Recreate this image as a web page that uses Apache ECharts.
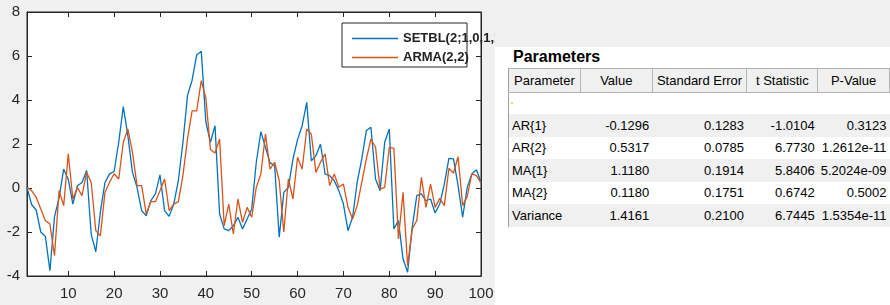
<!DOCTYPE html>
<html>
<head>
<meta charset="utf-8">
<script src="https://cdn.jsdelivr.net/npm/echarts@6/dist/echarts.min.js"></script>
<style>
  html, body { margin: 0; padding: 0; background: #fff; }
  #wrap { position: relative; width: 890px; height: 305px; overflow: hidden; }
  #chart { position: absolute; left: 0; top: 0; width: 890px; height: 305px; }
  /* panel on the right */
  #panel { position: absolute; left: 495px; top: 0; width: 395px; height: 305px; background: #fff;
           font-family: "Liberation Sans", Arial, sans-serif; color: #000; }
  #band { position: absolute; left: 0; top: 0; width: 395px; height: 47px; background: #f0f0f0; }
  #title { position: absolute; left: 18px; top: 48px; font-size: 16px; font-weight: bold; }
  table { position: absolute; left: 13px; top: 68px; border-collapse: collapse; font-size: 13px;
          table-layout: fixed; border-left: 1px solid #a0a0a0; }
  th { height: 23px; padding: 0; font-weight: normal; background: #f0f0f0;
       border-right: 1px solid #b4b4b4; border-bottom: 1px solid #b4b4b4; border-top: 1px solid #b4b4b4; }
  td { height: 22.5px; padding: 0 3px; text-align: right; white-space: nowrap; }
  td:first-child { text-align: left; padding-left: 3px; }
  tr.g td { background: #f0f0f0; }
  tr.blank td { height: 21px; }
</style>
</head>
<body>
<div id="wrap">
  <div id="chart"></div>
  <div id="panel">
    <div id="band"></div>
    <div id="title">Parameters</div>
    <table id="tbl"></table>
  </div>
</div>
<script>
// x steps 1..100
const steps = Array.from({ length: 100 }, (_, i) => String(i + 1));
const xTickLabels = [10, 20, 30, 40, 50, 60, 70, 80, 90, 100];

// SETBL(2;1,0,1,1)
const setbl = [
  0.03, -0.75, -1.0, -2.0, -2.2, -3.76, -1.3, -0.45, 0.86, 0.4,
  -0.73, 0.1, 0.25, 0.8, -2.1, -2.9, -1.1, 0.25, 0.64, 0.75,
  2.08, 3.7, 2.37, 0.71, 0.03, -1.03, -1.26, -0.58, -0.27, 0.6,
  -1.03, -1.29, -0.73, 0.33, 2.07, 4.2, 4.9, 6.05, 6.22, 3.0,
  2.08, 2.83, -1.18, -1.86, -1.94, -1.71, -1.33, -1.86, -1.41, -0.95,
  1.17, 2.56, 1.85, 1.14, 1.02, -2.24, -0.2, 0.03, 1.32, 2.2,
  2.83, 3.89, 1.24, 1.47, 2.0, 0.64, 0.56, 0.33, -0.12, -0.73,
  -1.94, -1.33, 0.26, 1.32, 2.61, 2.76, 0.41, -0.12, 2.08, 2.68,
  -1.86, -1.48, -3.23, -3.83, -1.79, -0.35, -0.27, -0.58, -0.5, -1.14,
  -0.73, 0.18, 1.35, 1.32, 0.11, -1.33, 0.03, 0.64, 0.83, 0.26
];

// ARMA(2,2)
const arma = [
  0.03, -0.12, -0.42, -0.95, -1.48, -1.64, -3.08, -0.12, -0.8, 1.55,
  -0.5, 0.03, -0.35, 0.71, 0.26, -1.94, -2.17, -0.2, 0.26, 0.65,
  0.41, 2.08, 2.68, 1.62, 0.11, 0.11, -1.18, -0.62, -0.62, -0.12,
  0.41, -1.03, -0.73, -0.62, 0.56, 2.23, 3.51, 3.51, 4.88, 4.1,
  1.75, 1.59, 2.23, -1.71, -0.73, -2.09, -0.5, -1.56, -0.88, -1.33,
  0.03, 0.64, 2.45, 0.86, 1.17, 0.33, -2.0, 0.41, -0.5, 1.4,
  0.86, 2.68, 2.45, 0.71, 1.17, 1.55, 0.11, 0.64, 0.03, 0.18,
  -0.88, -1.41, -0.8, 0.26, 1.32, 2.23, 1.85, -0.05, 0.03, 1.85,
  1.8, -2.32, -0.2, -3.53, -1.86, -1.48, 0.48, -0.88, 0.18, -0.88,
  -0.47, -0.8, 0.89, 0.68, 1.42, -0.8, -0.38, 0.64, 0.56, 0.23
];

// table
const tableHeader = ["Parameter", "Value", "Standard Error", "t Statistic", "P-Value"];
const colWidths = [72, 72, 95, 71, 70];
const paramNames = ["AR{1}", "AR{2}", "MA{1}", "MA{2}", "Variance"];
const paramValues = ["-0.1296", "0.5317", "1.1180", "0.1180", "1.4161"];
const stdErrors = ["0.1283", "0.0785", "0.1914", "0.1751", "0.2100"];
const tStats = ["-1.0104", "6.7730", "5.8406", "0.6742", "6.7445"];
const pValues = ["0.3123", "1.2612e-11", "5.2024e-09", "0.5002", "1.5354e-11"];

// build the table
let html = "<colgroup>" + colWidths.map(w => `<col style="width:${w}px">`).join("") + "</colgroup>";
html += "<tr>" + tableHeader.map(h => `<th>${h}</th>`).join("") + "</tr>";
html += '<tr class="blank"><td style="position:relative"><span style="position:absolute;left:2px;top:9px;width:2px;height:2px;background:#f0d060"></span></td><td></td><td></td><td></td><td></td></tr>';
paramNames.forEach((n, i) => {
  html += `<tr class="${i % 2 === 0 ? 'g' : ''}"><td>${n}</td><td>${paramValues[i]}</td><td>${stdErrors[i]}</td><td>${tStats[i]}</td><td>${pValues[i]}</td></tr>`;
});
document.getElementById("tbl").innerHTML = html;

const axisColor = "#262626";
const isTick = (idx, val) => xTickLabels.includes(Number(val));

const myChart = echarts.init(document.getElementById("chart"));
myChart.setOption({
  backgroundColor: "#f0f0f0",
  animation: false,
  textStyle: { fontFamily: "Liberation Sans, Arial, sans-serif" },
  grid: {
    left: 27, top: 12, right: 409, bottom: 29,
    show: true, backgroundColor: "#fff", borderColor: axisColor, borderWidth: 1
  },
  legend: {
    orient: "vertical",
    left: 347, top: 27,
    icon: "rect",
    itemWidth: 46, itemHeight: 1.5, itemGap: 6,
    z: 60,
    textStyle: { fontSize: 13, fontWeight: "bold", color: "#222" },
    data: ["SETBL(2;1,0,1,1)", "ARMA(2,2)"]
  },
  graphic: [
    {
      type: "rect", z: 50,
      shape: { x: 342, y: 23, width: 125, height: 44 },
      style: { fill: "#fff", stroke: "#262626", lineWidth: 1 }
    }
  ],
  xAxis: [
    {
      type: "category", data: steps, boundaryGap: false,
      axisLine: { onZero: false, lineStyle: { color: axisColor } },
      axisTick: { inside: true, length: 5, interval: isTick, lineStyle: { color: axisColor } },
      axisLabel: { interval: isTick, color: axisColor, fontSize: 15, margin: 10 },
      splitLine: { show: false }
    },
    {
      type: "category", data: steps, boundaryGap: false, position: "top",
      axisLine: { onZero: false, lineStyle: { color: axisColor } },
      axisTick: { inside: true, length: 5, interval: isTick, lineStyle: { color: axisColor } },
      axisLabel: { show: false },
      splitLine: { show: false }
    }
  ],
  yAxis: [
    {
      type: "value", min: -4, max: 8, interval: 2,
      axisLine: { show: true, onZero: false, lineStyle: { color: axisColor } },
      axisTick: { show: true, inside: true, length: 5, lineStyle: { color: axisColor } },
      axisLabel: { color: axisColor, fontSize: 15, margin: 7 },
      splitLine: { show: false }
    },
    {
      type: "value", min: -4, max: 8, interval: 2, position: "right",
      axisLine: { show: true, onZero: false, lineStyle: { color: axisColor } },
      axisTick: { show: true, inside: true, length: 5, lineStyle: { color: axisColor } },
      axisLabel: { show: false },
      splitLine: { show: false }
    }
  ],
  series: [
    {
      name: "SETBL(2;1,0,1,1)", type: "line", data: setbl,
      showSymbol: false, symbol: "none",
      lineStyle: { color: "#0072BD", width: 1.3 }, itemStyle: { color: "#0072BD" }
    },
    {
      name: "ARMA(2,2)", type: "line", data: arma,
      showSymbol: false, symbol: "none",
      lineStyle: { color: "#D95319", width: 1.3 }, itemStyle: { color: "#D95319" }
    }
  ]
});
</script>
</body>
</html>
